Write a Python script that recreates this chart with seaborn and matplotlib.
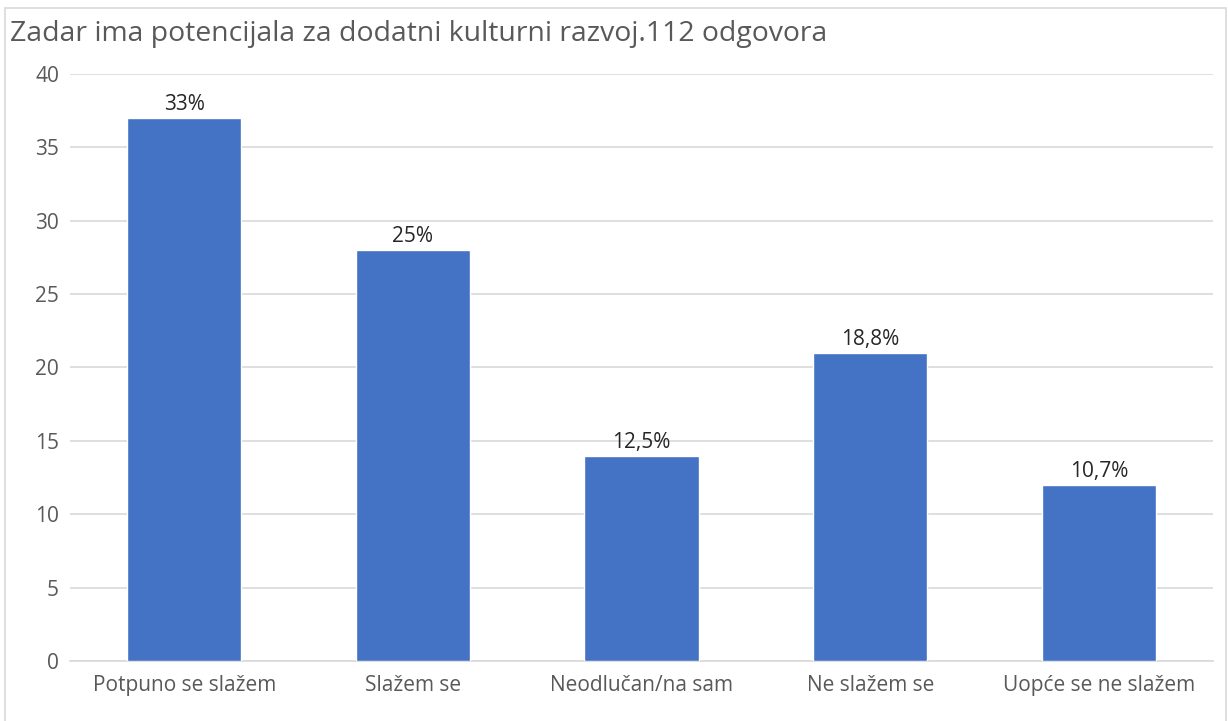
import matplotlib
matplotlib.use("Agg")
import matplotlib.pyplot as plt
import seaborn as sns
import pandas as pd
from matplotlib.patches import Rectangle

categories = ["Potpuno se slažem", "Slažem se", "Neodlučan/na sam", "Ne slažem se", "Uopće se ne slažem"]
counts = [37, 28, 14, 21, 12]
pct_labels = ["33%", "25%", "12,5%", "18,8%", "10,7%"]
title = "Zadar ima potencijala za dodatni kulturni razvoj.112 odgovora"

df = pd.DataFrame({"odgovor": categories, "broj": counts})

sns.set_theme(style="white")
plt.rcParams["font.family"] = ["Open Sans", "DejaVu Sans"]

fig = plt.figure(figsize=(12.28, 7.21), dpi=100)
ax = fig.add_axes([0.057, 0.0832, 0.931, 0.8142])

sns.barplot(data=df, x="odgovor", y="broj", color="#4472C4", width=0.5,
            saturation=1, ax=ax, zorder=3)

ax.set_ylim(0, 40)
ax.set_yticks(range(0, 41, 5))
ax.set_xlim(-0.5, 4.5)
ax.yaxis.grid(True, color="#D9D9D9", linewidth=1.2, zorder=0)
ax.set_axisbelow(True)
for s in ["top", "right", "left"]:
    ax.spines[s].set_visible(False)
ax.spines["bottom"].set_color("#D9D9D9")
ax.spines["bottom"].set_linewidth(1.2)
ax.tick_params(axis="both", length=0, labelsize=15, colors="#595959")
ax.tick_params(axis="x", pad=10)
ax.tick_params(axis="y", pad=8)
ax.set_xlabel("")
ax.set_ylabel("")

for i, (v, lab) in enumerate(zip(counts, pct_labels)):
    ax.text(i, v + 0.2, lab, ha="center", va="bottom", fontsize=15, color="#262626")

fig.text(0.008, 0.953, title, ha="left", va="center", fontsize=20.4, color="#595959")

fig.patches.append(Rectangle((0.004, -0.01), 0.994, 0.999, transform=fig.transFigure,
                             fill=False, edgecolor="#D9D9D9", linewidth=1.2))

fig.savefig("out.png", dpi=100)
